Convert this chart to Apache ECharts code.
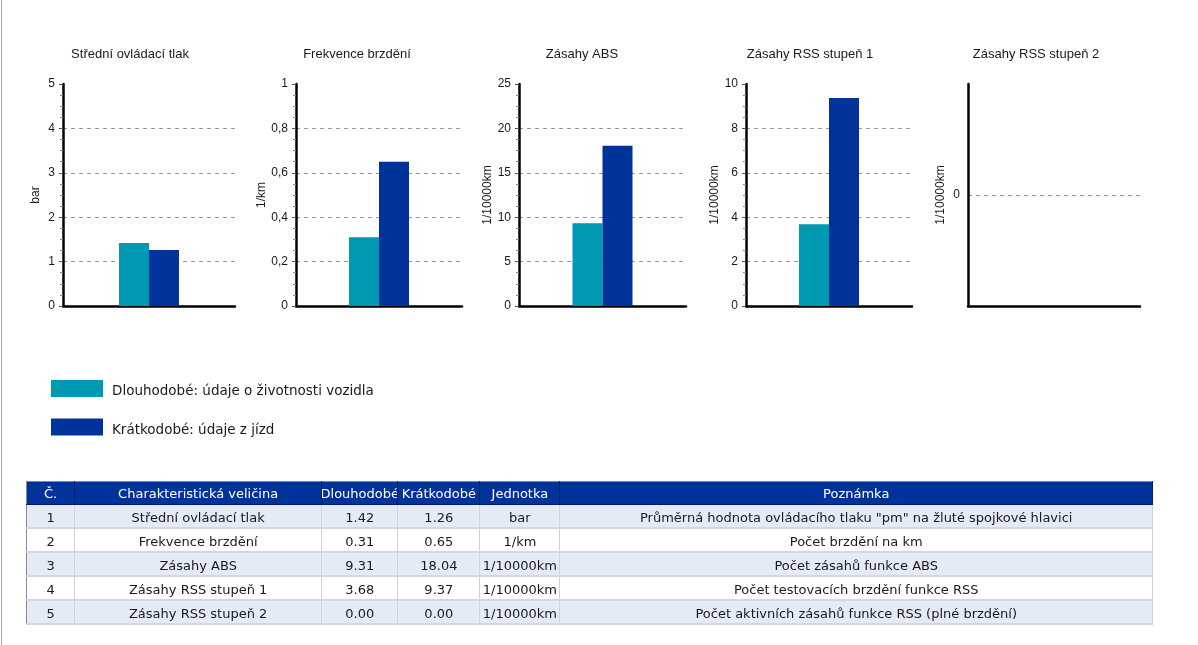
<!DOCTYPE html>
<html>
<head>
<meta charset="utf-8">
<script src="https://cdn.jsdelivr.net/npm/echarts@6/dist/echarts.min.js"></script>
<style>
  html, body { margin: 0; padding: 0; background: #fff; }
  #wrap { position: relative; width: 1198px; height: 645px; overflow: hidden; }
  #chart { position: absolute; left: 0; top: 0; width: 1198px; height: 645px; }
  #leftline { position: absolute; left: 1px; top: 0; width: 1px; height: 645px; background: #a8a8a8; }
  #tbl { position: absolute; left: 26px; top: 481px; width: 1127px; border-collapse: collapse; table-layout: fixed;
         font-family: "DejaVu Sans", sans-serif; font-size: 13px; color: #1a1a1a; border: 1px solid #8a8a8a; }
  #tbl th { background: #003399; color: #fff; font-weight: normal; height: 22px; padding: 0; overflow: hidden;
            border-right: 1px solid #001e66; border-bottom: 1px solid #001e66; }
  #tbl td { height: 20px; padding: 2px 0 0 0; text-align: center; overflow: hidden; border-right: 1px solid #cfd3da; border-bottom: 2px solid #d4d7dc; }
  #tbl tr.odd td { background: #e4eaf6; }
  #tbl tr.even td { background: #ffffff; }
  .cell { display: flex; justify-content: center; overflow: hidden; white-space: nowrap; min-width: 0; width: 100%; }
</style>
</head>
<body>
<div id="wrap">
  <div id="chart"></div>
  <div id="leftline"></div>
  <table id="tbl"></table>
</div>
<script>
// ---- data ----
const chartTitles = ['Střední ovládací tlak', 'Frekvence brzdění', 'Zásahy ABS', 'Zásahy RSS stupeň 1', 'Zásahy RSS stupeň 2'];
const units = ['bar', '1/km', '1/10000km', '1/10000km', '1/10000km'];
const longTermValues = [1.42, 0.31, 9.31, 3.68, 0.00];
const shortTermValues = [1.26, 0.65, 18.04, 9.37, 0.00];
const axisMin = [0, 0, 0, 0, -1];
const axisMax = [5, 1, 25, 10, 1];
const axisInterval = [1, 0.2, 5, 2, 1];
const seriesNames = ['Dlouhodobé: údaje o životnosti vozidla', 'Krátkodobé: údaje z jízd'];
const tableHeaders = ['Č.', 'Charakteristická veličina', 'Dlouhodobé', 'Krátkodobé', 'Jednotka', 'Poznámka'];
const rowNumbers = ['1', '2', '3', '4', '5'];
const notes = [
  'Průměrná hodnota ovládacího tlaku "pm" na žluté spojkové hlavici',
  'Počet brzdění na km',
  'Počet zásahů funkce ABS',
  'Počet testovacích brzdění funkce RSS',
  'Počet aktivních zásahů funkce RSS (plné brzdění)'
];

// ---- layout ----
const gridLeft = [63, 296, 519, 746, 968];
const gridWidth = [172, 166, 167, 166, 172];
const titleCenter = [130, 357, 582, 810, 1036];
const nameGap = [21, 27, 25, 25, 21];
const colors = ['#0099b3', '#003399'];
const fontSans = '"Liberation Sans", Arial, sans-serif';

const grids = [], xAxes = [], yAxes = [], series = [], titles = [];
chartTitles.forEach((t, i) => {
  const empty = axisMin[i] < 0;
  titles.push({
    text: t, left: titleCenter[i], top: 48, textAlign: 'center', padding: 0,
    textStyle: { fontFamily: fontSans, fontSize: 13, fontWeight: 'normal', color: '#1a1a1a' }
  });
  grids.push({ left: gridLeft[i], top: 84, width: gridWidth[i], height: 222, containLabel: false, outerBoundsMode: 'none' });
  xAxes.push({
    type: 'category', gridIndex: i, data: [t],
    axisLine: { onZero: false, lineStyle: { color: '#000', width: 2.5 } },
    axisTick: { show: false }, axisLabel: { show: false }, splitLine: { show: false }
  });
  yAxes.push({
    type: 'value', gridIndex: i, min: axisMin[i], max: axisMax[i], interval: axisInterval[i],
    name: units[i], nameLocation: 'middle', nameRotate: 90, nameGap: nameGap[i],
    nameTextStyle: { fontFamily: fontSans, fontSize: 12, color: '#1a1a1a' },
    axisLine: { show: true, lineStyle: { color: '#000', width: 2.5 } },
    axisTick: { show: !empty, length: 4, lineStyle: { color: '#555' } },
    minorTick: { show: !empty, splitNumber: 4, length: 3, lineStyle: { color: '#888' } },
    axisLabel: {
      margin: 8, fontFamily: fontSans, fontSize: 12, color: '#1a1a1a',
      formatter: v => empty ? (v === 0 ? '0' : '') : String(+v.toFixed(4)).replace('.', ',')
    },
    splitLine: { show: true, showMinLine: false, showMaxLine: false, lineStyle: { color: '#999', type: [4, 4], width: 1 } }
  });
  [longTermValues, shortTermValues].forEach((vals, k) => {
    series.push({
      type: 'bar', name: seriesNames[k], xAxisIndex: i, yAxisIndex: i,
      data: [vals[i]], barWidth: 30, barGap: '0%',
      itemStyle: { color: colors[k] }, silent: true, animation: false
    });
  });
});

const chart = echarts.init(document.getElementById('chart'), null, { renderer: 'canvas' });
chart.setOption({
  animation: false,
  color: colors,
  title: titles,
  grid: grids,
  xAxis: xAxes,
  yAxis: yAxes,
  series: series,
  legend: {
    orient: 'vertical', left: 51, top: 380, padding: 0, itemWidth: 52, itemHeight: 17, itemGap: 20,
    icon: 'rect', data: seriesNames, selectedMode: false,
    formatter: name => '{t|' + name + '}',
    textStyle: {
      fontFamily: '"DejaVu Sans", sans-serif', fontSize: 13.5, color: '#1a1a1a',
      rich: { t: { fontFamily: '"DejaVu Sans", sans-serif', fontSize: 13.5, color: '#1a1a1a', padding: [6, 0, 0, 4] } }
    }
  }
});

// ---- table ----
const colWidths = [48, 247, 76, 82, 80, 592];
const tbl = document.getElementById('tbl');
let html = '<colgroup>' + colWidths.map(w => '<col style="width:' + w + 'px">').join('') + '</colgroup>';
html += '<tr>' + tableHeaders.map(h => '<th><div class="cell">' + h + '</div></th>').join('') + '</tr>';
const fmt = v => v.toFixed(2);
chartTitles.forEach((t, i) => {
  const cells = [rowNumbers[i], t, fmt(longTermValues[i]), fmt(shortTermValues[i]), units[i], notes[i]];
  html += '<tr class="' + (i % 2 === 0 ? 'odd' : 'even') + '">' +
    cells.map(c => '<td><div class="cell">' + c.replace(/"/g, '&quot;') + '</div></td>').join('') + '</tr>';
});
tbl.innerHTML = html;
</script>
</body>
</html>
